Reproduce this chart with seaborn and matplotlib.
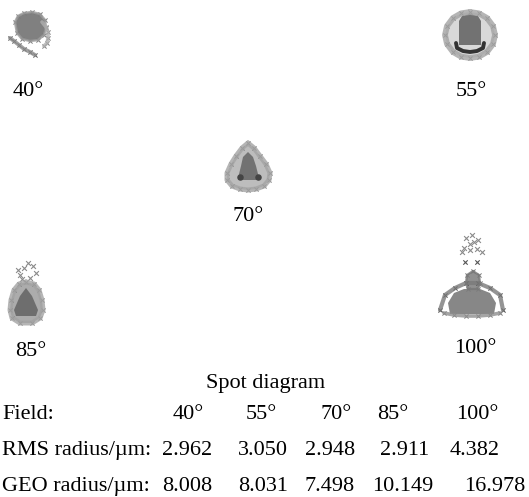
import matplotlib
matplotlib.use("Agg")
import matplotlib.pyplot as plt
import pandas as pd
import seaborn as sns

sns.set_theme(style="white")
plt.rcParams["font.family"] = ["Liberation Serif", "DejaVu Serif"]

# ---- summary table ----
fields = ["40°", "55°", "70°", "85°", "100°"]
rms_radius = [2.962, 3.050, 2.948, 2.911, 4.382]
geo_radius = [8.008, 8.031, 7.498, 10.149, 16.978]

# ---- spot traces: image-plane offsets from the chief ray, µm (y up) ----
spot40_core = [(-7.5, 4), (-6, 7), (-3, 8.5), (1, 9), (5, 8), (7.5, 5), (8, 1),
               (7, -2.5), (4, -5), (0, -5.5), (-4, -4.5), (-6.5, -1.5)]
spot40_tail = [(6, 4), (8, 1.5), (9, -1), (9, -4), (8.5, -6.5), (7, -8)]
spot40_streak = [(-10, -4), (-8, -5.5), (-5.5, -7.5), (-3, -9.5), (0, -11), (2.5, -12.5)]

spot55_ring = [(0, 11.5), (4.5, 10.8), (8.5, 8.5), (11.5, 4.5), (12.5, 0), (11.5, -4.5),
               (8.5, -8.5), (4.5, -10.8), (0, -11.5), (-4.5, -10.8), (-8.5, -8.5),
               (-11.5, -4.5), (-12.5, 0), (-11.5, 4.5), (-8.5, 8.5), (-4.5, 10.8)]
spot55_core = [(-5.5, -5), (-5.5, 7), (-4, 9.5), (0, 10.5), (4, 9.5), (5.5, 7), (5.5, -5)]
spot55_arc = [(-7, -4), (-6.5, -6.5), (-3.5, -8), (0, -8.5), (3.5, -8), (6.5, -6.5), (7, -4)]

spot70_ring = [(0, 12.5), (3, 10), (6, 6), (9, 2), (11, -2.5), (10.5, -6), (8, -9),
               (4, -10.5), (0, -11), (-4, -10.5), (-8, -9), (-10.5, -6), (-10.5, -2.5),
               (-8.5, 2), (-6, 6), (-3, 10)]
spot70_core = [(0, 8), (2.5, 5.5), (4, 1), (5, -3), (5.5, -6), (-5, -6), (-4.5, -3),
               (-3.5, 1), (-2.5, 5.5)]
spot70_dense = [(-4, -4.5), (5, -4.5)]

spot85_ring = [(0, 9), (4, 8), (6.5, 5), (8, 0), (8.5, -5), (7, -9), (3, -11.5),
               (-3, -11.5), (-7, -9), (-8, -5), (-7.5, 0), (-6, 5), (-3.5, 8)]
spot85_core = [(0, 6), (3, 2), (6, -5), (5, -8), (-5, -8), (-6, -5), (-3, 2)]
spot85_top = [(-3, 12.5), (-1, 16), (1, 18.5), (3.5, 17), (5, 13.5), (2, 11),
              (-2, 10.5), (-4, 15)]

spot100_top = [(-3, 28.5), (0, 30), (3, 27.5), (-1, 25.5), (-4, 23.5), (-1, 22.5),
               (2.5, 23), (5, 21.5), (-5, 21.5), (1, 26.5)]
spot100_mid = [(-3.5, 16.5), (2.5, 16.5)]
spot100_head = [(0.5, 12), (3.5, 10), (4, 6), (3, 3), (-2, 3), (-3, 6), (-2.5, 10)]
spot100_arc = [(-16, -7.5), (-13.5, 0), (-8.5, 3.5), (-3, 6), (3, 6), (9, 3.5),
               (14, 0), (15.5, -7.5)]
spot100_core = [(-11, -9.5), (-12, -4), (-9, 1), (-4, 3), (4, 3), (9, 1), (12, -4),
                (11, -9.5)]
spot100_base = [(-14, -9), (-9, -10), (-3, -10.5), (3, -10.5), (9, -10), (14, -9)]

W, H = 529, 497
PX_PER_UM = 2.0
HALF = 34  # µm shown either side of each spot centre

fig = plt.figure(figsize=(W / 100, H / 100), dpi=100)
fig.patch.set_facecolor("white")


def spot_axes(cx, cy):
    side = 2 * HALF * PX_PER_UM
    ax = fig.add_axes([(cx - side / 2) / W, 1 - (cy + side / 2) / H, side / W, side / H])
    ax.set_xlim(-HALF, HALF)
    ax.set_ylim(-HALF, HALF)
    ax.axis("off")
    return ax


def frame(points, closed=False):
    df = pd.DataFrame(points, columns=["x", "y"])
    if closed:
        df = pd.concat([df, df.iloc[:1]], ignore_index=True)
    return df


def fill(ax, points, color):
    df = frame(points, closed=True)
    ax.fill(df["x"], df["y"], color=color, lw=0)


def ring(ax, points, closed=True, color="#a3a3a3", lw=3.6, cross="#7c7c7c"):
    df = frame(points, closed=closed)
    sns.lineplot(data=df, x="x", y="y", sort=False, estimator=None, ax=ax,
                 color=color, lw=lw, alpha=0.8)
    sns.scatterplot(data=frame(points), x="x", y="y", marker="x", s=9,
                    color=cross, linewidth=0.7, ax=ax)


def crosses(ax, points, color="#7a7a7a", s=12):
    sns.scatterplot(data=frame(points), x="x", y="y", marker="x", s=s,
                    color=color, linewidth=0.8, ax=ax)


# 40°
ax = spot_axes(30, 30)
fill(ax, spot40_core, "#808080")
ring(ax, spot40_core, color="#9a9a9a", lw=1.8)
ring(ax, spot40_tail, closed=False, color="#b0b0b0", lw=2.6)
ring(ax, spot40_streak, closed=False, color="#8a8a8a", lw=2.8, cross="#555555")

# 55°
ax = spot_axes(470, 35)
fill(ax, spot55_ring, "#d9d9d9")
ring(ax, spot55_ring, lw=4.2)
fill(ax, spot55_core, "#727272")
sns.lineplot(data=frame(spot55_arc), x="x", y="y", sort=False, estimator=None,
             ax=ax, color="#333333", lw=2.8)

# 70°
ax = spot_axes(248, 168)
fill(ax, spot70_ring, "#bdbdbd")
ring(ax, spot70_ring)
fill(ax, spot70_core, "#727272")
sns.scatterplot(data=frame(spot70_dense), x="x", y="y", marker="o", s=22,
                color="#444444", linewidth=0, ax=ax)

# 85°
ax = spot_axes(26, 300)
fill(ax, spot85_ring, "#acacac")
ring(ax, spot85_ring)
fill(ax, spot85_core, "#6e6e6e")
crosses(ax, spot85_top, color="#8a8a8a")

# 100°
ax = spot_axes(472, 295)
crosses(ax, spot100_top, color="#8a8a8a")
crosses(ax, spot100_mid, color="#555555", s=10)
fill(ax, spot100_core, "#878787")
fill(ax, spot100_head, "#909090")
ring(ax, spot100_head, color="#777777", lw=1.6)
ring(ax, spot100_arc, closed=False, color="#7a7a7a", lw=3.0, cross="#444444")
ring(ax, spot100_base, closed=False, color="#8f8f8f", lw=2.6)

# ---- text ----
FS = 16


def put(x, y, s, ha="center"):
    fig.text(x / W, 1 - y / H, s, ha=ha, va="baseline", fontsize=FS, color="black")


label_pos = [(28, 96), (471, 96), (248, 221), (31, 356), (475, 353)]
for name, (x, y) in zip(fields, label_pos):
    put(x, y, name)

put(266, 388, "Spot diagram")

row_names = ["Field:", "RMS radius/µm:", "GEO radius/µm:"]
row_base = [419, 455, 491]
row_cols = [
    [188.5, 261, 336.5, 392.5, 477.5],
    [187.5, 262.5, 330, 404.5, 474.5],
    [187.5, 263.5, 330, 402.5, 495],
]
row_text = [fields,
            [f"{v:.3f}" for v in rms_radius],
            [f"{v:.3f}" for v in geo_radius]]
for name, yb, cols, texts in zip(row_names, row_base, row_cols, row_text):
    put(2, yb, name, ha="left")
    for x, t in zip(cols, texts):
        put(x, yb, t)

fig.savefig("out.png", dpi=100, facecolor="white")
